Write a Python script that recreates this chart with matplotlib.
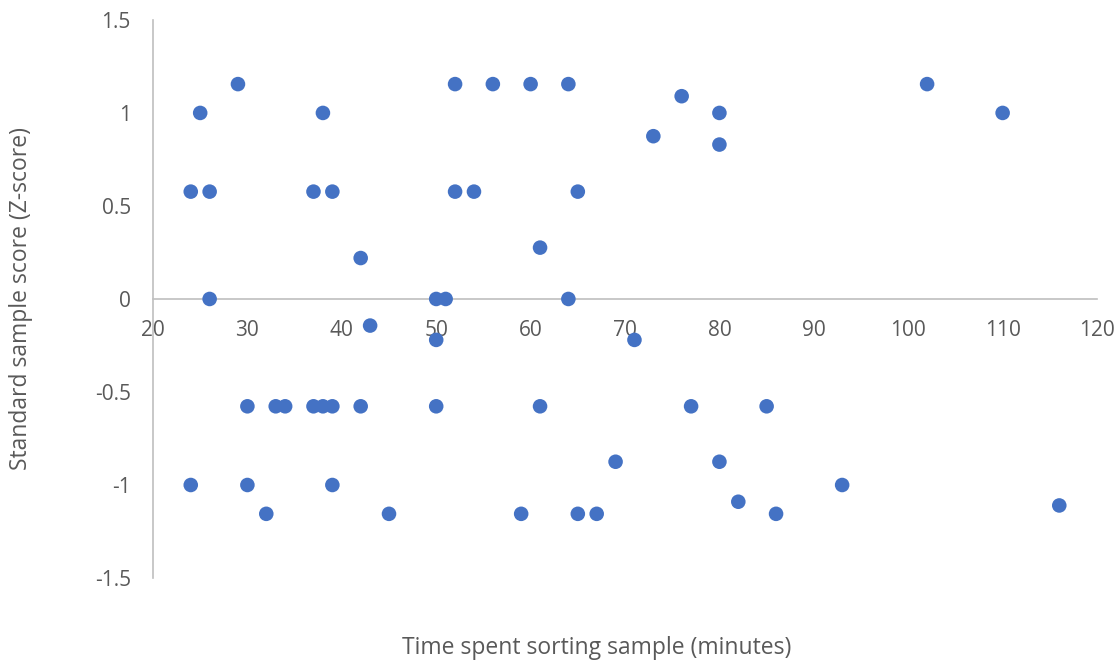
#!/usr/bin/env python3
"""
Scatter of time spent sorting each sample vs its standard score (z-score).
Output: out.png
"""
import matplotlib.pyplot as plt
from matplotlib.ticker import FuncFormatter

plt.rcParams['font.family'] = ['Open Sans', 'DejaVu Sans']
plt.rcParams['axes.unicode_minus'] = False

# time spent sorting (minutes)
minutes = [
    29, 52, 56, 60, 64, 102,
    25, 38, 80, 110,
    24, 26, 37, 39, 52, 54, 65,
    42, 26, 50, 51, 64,
    76, 73, 80, 61, 43, 50, 71,
    30, 33, 34, 37, 38, 39, 42, 50, 61, 77, 85,
    69, 80,
    24, 30, 39, 93,
    82,
    32, 45, 59, 65, 67, 86,
    116,
]
# standard sample score (z-score)
z_score = [
    1.155, 1.155, 1.155, 1.155, 1.155, 1.155,
    1.0, 1.0, 1.0, 1.0,
    0.577, 0.577, 0.577, 0.577, 0.577, 0.577, 0.577,
    0.22, 0.0, 0.0, 0.0, 0.0,
    1.09, 0.875, 0.83, 0.276, -0.143, -0.22, -0.22,
    -0.577, -0.577, -0.577, -0.577, -0.577, -0.577, -0.577, -0.577, -0.577, -0.577, -0.577,
    -0.875, -0.875,
    -1.0, -1.0, -1.0, -1.0,
    -1.09,
    -1.155, -1.155, -1.155, -1.155, -1.155, -1.155,
    -1.11,
]

x_ticks = [20, 30, 40, 50, 60, 70, 80, 90, 100, 110, 120]
y_ticks = [-1.5, -1, -0.5, 0, 0.5, 1, 1.5]

TEXT = '#595959'
AXIS = '#BFBFBF'
BLUE = '#4472C4'

fig = plt.figure(figsize=(11.2, 6.64), dpi=100)
ax = fig.add_axes([0.1366, 0.1295, 0.8429, 0.8405])

ax.scatter(minutes, z_score, s=110, color=BLUE, edgecolors='none', zorder=3)

ax.set_xlim(20, 120)
ax.set_ylim(-1.5, 1.5)
ax.set_xticks(x_ticks)
ax.set_yticks(y_ticks)
ax.yaxis.set_major_formatter(FuncFormatter(lambda v, p: f'{v:g}'))

for side in ('top', 'right'):
    ax.spines[side].set_visible(False)
ax.spines['bottom'].set_position(('data', 0))
for side in ('left', 'bottom'):
    ax.spines[side].set_color(AXIS)
    ax.spines[side].set_linewidth(1.2)

ax.tick_params(axis='both', length=0, labelsize=15, labelcolor=TEXT)
ax.tick_params(axis='x', pad=15)
ax.tick_params(axis='y', pad=16)

fig.text(0.533, 0.006, 'Time spent sorting sample (minutes)', ha='center', va='bottom',
         fontsize=16.5, color=TEXT)
fig.text(0.019, 0.55, 'Standard sample score (Z-score)', ha='center', va='center',
         rotation=90, fontsize=16.5, color=TEXT)

fig.savefig('out.png', dpi=100, facecolor='white')
